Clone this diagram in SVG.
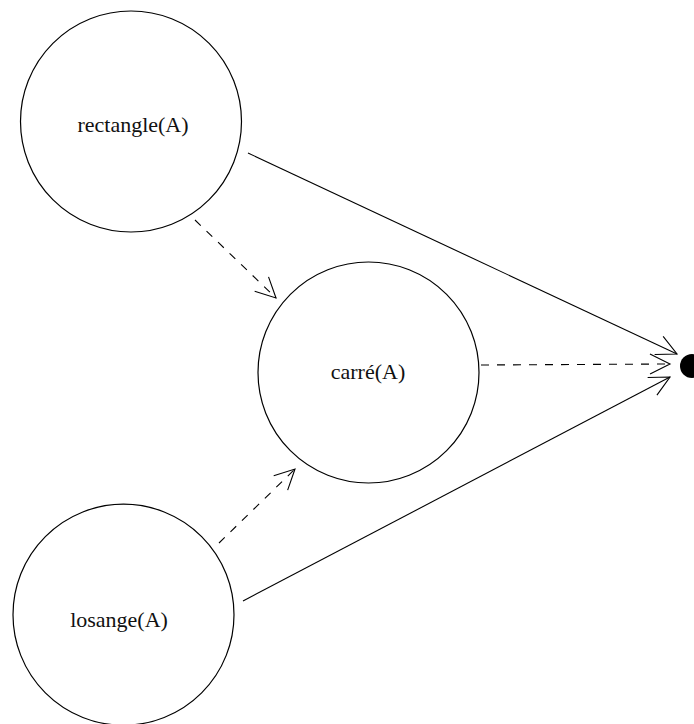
<svg xmlns="http://www.w3.org/2000/svg" width="694" height="724" viewBox="0 0 694 724">
<style>
.node{fill:#fff;stroke:#000;stroke-width:1.2}
.lbl{font-family:"Liberation Serif","Times New Roman",serif;font-size:22px;fill:#111;text-anchor:middle}
.edge{fill:none;stroke:#000;stroke-width:1.1}
.dash{stroke-dasharray:8 8}
</style>
<defs>
<marker id="open" viewBox="-23 -12 25 24" refX="0" refY="0" markerWidth="25" markerHeight="24" markerUnits="userSpaceOnUse" orient="auto">
<path d="M-20,-10 L0,0 L-20,10" fill="none" stroke="#000" stroke-width="1.1" stroke-dasharray="none"/>
</marker>
</defs>
<rect width="694" height="724" fill="#fff"/>
<g id="edges">
<line class="edge" x1="248" y1="153" x2="677" y2="354" marker-end="url(#open)"/>
<line class="edge dash" x1="481" y1="365" x2="670" y2="364" marker-end="url(#open)"/>
<line class="edge" x1="243" y1="601" x2="670" y2="377" marker-end="url(#open)"/>
<line class="edge dash" x1="195" y1="220" x2="276" y2="298" marker-end="url(#open)"/>
<line class="edge dash" x1="219" y1="543" x2="295" y2="469" marker-end="url(#open)"/>
</g>
<g id="rectangle">
<circle class="node" cx="131" cy="121.5" r="110.5"/>
<text class="lbl" x="133" y="132">rectangle(A)</text>
</g>
<g id="carre">
<circle class="node" cx="368.5" cy="372.5" r="110.5"/>
<text class="lbl" x="368" y="379">carré(A)</text>
</g>
<g id="losange">
<circle class="node" cx="123.5" cy="614.7" r="110.5"/>
<text class="lbl" x="119" y="627">losange(A)</text>
</g>
<g id="end">
<circle cx="692" cy="366" r="12" fill="#000"/>
</g>
</svg>
